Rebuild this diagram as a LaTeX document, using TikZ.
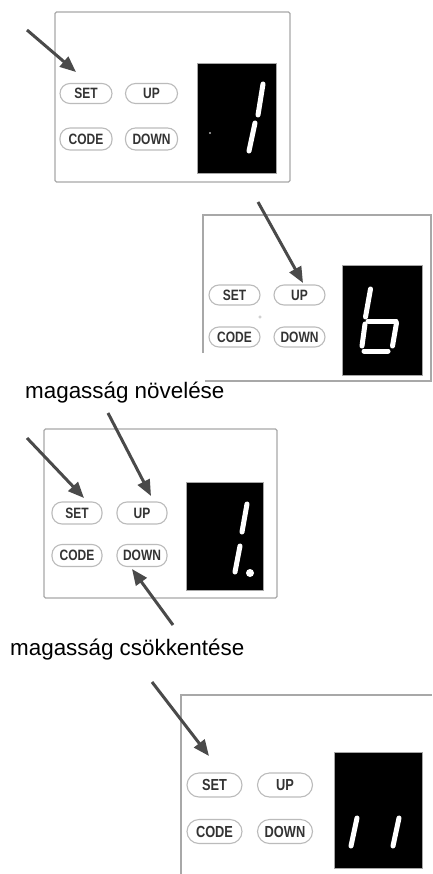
\documentclass[tikz,border=0pt]{standalone}
\usepackage{fontspec}
\setmainfont{Liberation Sans}
\newfontfamily\btnfont[FakeStretch=0.8]{Liberation Sans Bold}
\usetikzlibrary{arrows.meta,calc}
\definecolor{panelgray}{HTML}{A8A8A8}
\definecolor{btngray}{HTML}{BBBBBB}
\definecolor{btntext}{HTML}{333333}
\definecolor{arrowgray}{HTML}{4A4A4A}
\tikzset{
  panel/.style={draw=panelgray,line width=1.3pt,rounded corners=1.5pt},
  disp/.style={fill=black,draw=gray!70,line width=0.8pt},
  btn/.style={draw=btngray,line width=1.1pt,rounded corners=10pt,minimum width=52pt,minimum height=20pt,inner sep=0pt,text=btntext,font=\btnfont\fontsize{15}{15}\selectfont},
  btnbig/.style={btn,minimum width=55pt,minimum height=24pt,rounded corners=12pt,font=\btnfont\fontsize{16}{16}\selectfont},
  seg/.style={white,line width=5pt,line cap=round},
  pointer/.style={draw=arrowgray,line width=3pt,-{Triangle[length=16pt,width=13pt]},shorten >=0pt},
  caption/.style={anchor=base west,inner sep=0pt,font=\fontsize{22.4}{26}\selectfont}
}
\begin{document}
\begin{tikzpicture}[x=1pt,y=-1pt]
\useasboundingbox (0,0) rectangle (432,874);
% ---------- panel 1 ----------
\draw[panel] (55,12) rectangle (290,182);
\draw[disp] (197,63) rectangle (276,173);
\node[btn] (s1) at (86,93.5) {SET};
\node[btn] (u1) at (151.5,93.5) {UP};
\node[btn,minimum height=22pt] (c1) at (86,139) {CODE};
\node[btn,minimum height=22pt] (d1) at (151.5,139) {DOWN};
\draw[seg] (263,84) -- (258,115);
\draw[seg] (255,123) -- (249,151);
\fill[gray!60] (210,133) circle (1.2pt);
\coordinate (a1s) at (27,30);
\coordinate (a1e) at (76,72);
\draw[pointer] (a1s) -- (a1e);
% ---------- panel 2 ----------
\draw[panel,rounded corners=0pt] (203,353) -- (203,215) -- (431,215) -- (431,381) -- (205,381);
\draw[disp] (342,265) rectangle (422,375);
\node[btn,minimum width=51pt] (s2) at (234.5,295) {SET};
\node[btn,minimum width=51pt] (u2) at (299.5,295) {UP};
\node[btn,minimum width=51pt] (c2) at (234.5,337) {CODE};
\node[btn,minimum width=51pt] (d2) at (299.5,337) {DOWN};
\draw[gray!50,line width=0.6pt] (260,317) circle (1.3pt);
\draw[seg] (370.5,289) -- (365.5,317);
\draw[seg] (368,321) -- (396,321);
\draw[seg] (396.5,323) -- (392.5,346);
\draw[seg] (365,324) -- (362,346);
\draw[seg] (364,351) -- (388,351);
\coordinate (a2s) at (258,202);
\coordinate (a2e) at (303,283);
\draw[pointer] (a2s) -- (a2e);
% ---------- caption 1 ----------
\node[caption] (t1) at (25,398) {magasság növelése};
% ---------- panel 3 ----------
\draw[panel] (44,429) rectangle (277,598);
\draw[disp] (186,482) rectangle (263,590);
\node[btn,minimum width=50pt,minimum height=22pt] (s3) at (77,513) {SET};
\node[btn,minimum width=50pt,minimum height=22pt] (u3) at (142,513) {UP};
\node[btn,minimum width=50pt,minimum height=22pt] (c3) at (77,555.5) {CODE};
\node[btn,minimum width=50pt,minimum height=22pt] (d3) at (142,555.5) {DOWN};
\draw[seg] (247,504) -- (242,532);
\draw[seg] (240,546) -- (235,572);
\fill[white] (250,573) circle (4pt);
\coordinate (a3s) at (27,438);
\coordinate (a3e) at (84,498);
\draw[pointer] (a3s) -- (a3e);
\coordinate (a4s) at (108,413);
\coordinate (a4e) at (151,496);
\draw[pointer] (a4s) -- (a4e);
\coordinate (a5s) at (173,625);
\coordinate (a5e) at (132,569);
\draw[pointer] (a5s) -- (a5e);
% ---------- caption 2 ----------
\node[caption] (t2) at (10,655) {magasság csökkentése};
% ---------- panel 4 ----------
\draw[panel,rounded corners=0pt] (181,874) -- (181,695) -- (432,695);
\draw[disp] (334,752) rectangle (422,868);
\node[btnbig] (s4) at (214.5,785) {SET};
\node[btnbig] (u4) at (285,785) {UP};
\node[btnbig] (c4) at (214.5,831.5) {CODE};
\node[btnbig] (d4) at (285,831.5) {DOWN};
\draw[seg] (357,818) -- (351,846);
\draw[seg] (399,818) -- (393,846);
\coordinate (a6s) at (152,682);
\coordinate (a6e) at (209,756);
\draw[pointer] (a6s) -- (a6e);
\end{tikzpicture}
\end{document}
